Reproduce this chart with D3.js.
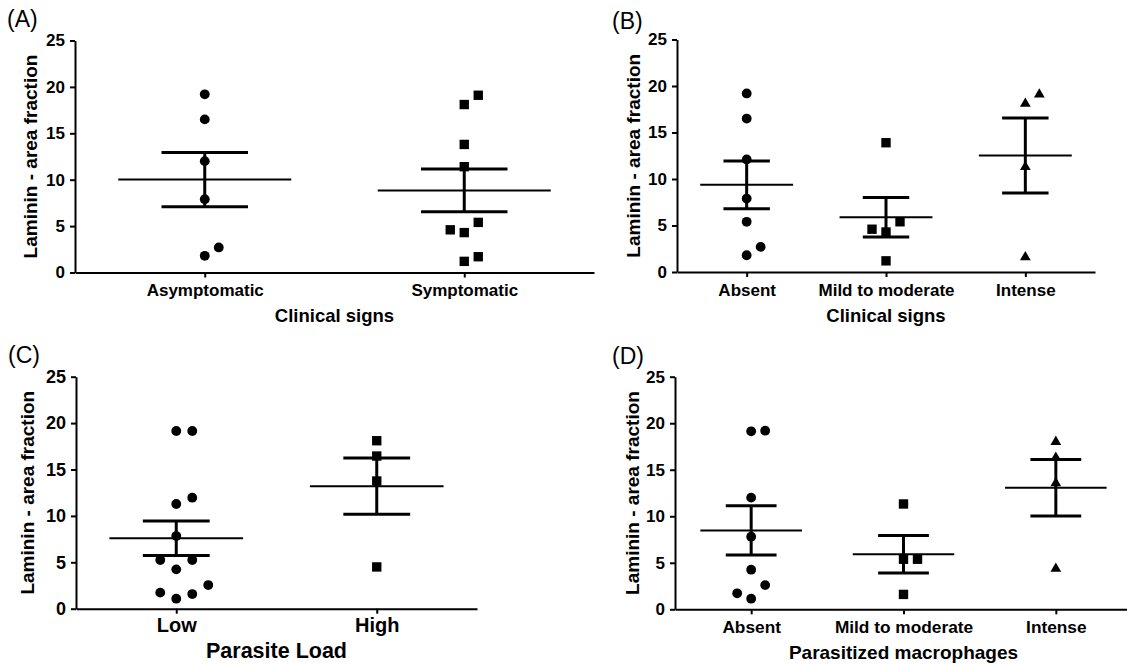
<!DOCTYPE html>
<html>
<head>
<meta charset="utf-8">
<script src="https://cdn.jsdelivr.net/npm/d3@7"></script>
<style>
  body { margin: 0; background: #fff; }
  text { font-family: "Liberation Sans", Arial, sans-serif; fill: #000; }
</style>
</head>
<body>
<svg id="chart" width="1127" height="665"></svg>
<script>
'use strict';
// values, one array per group
const yTicks = [0, 5, 10, 15, 20, 25];
const yTitle = 'Laminin - area fraction';
const shapes = ['circle', 'square', 'triangle'];

const panelALabels = ['Asymptomatic', 'Symptomatic'];
const panelAValues = [
  [19.2, 16.5, 12.0, 7.9, 2.7, 1.8],
  [19.1, 18.1, 13.8, 11.4, 5.4, 4.6, 4.3, 1.7, 1.2]
];
const panelBLabels = ['Absent', 'Mild to moderate', 'Intense'];
const panelBValues = [
  [19.2, 16.5, 12.1, 7.9, 5.4, 2.7, 1.8],
  [13.9, 5.4, 4.6, 4.3, 1.2],
  [19.1, 18.1, 11.3, 1.6]
];
const panelCLabels = ['Low', 'High'];
const panelCValues = [
  [19.15, 19.15, 11.96, 11.28, 7.83, 5.25, 5.25, 4.24, 2.55, 1.73, 1.58, 1.08],
  [18.1, 16.45, 13.76, 4.5]
];
const panelDLabels = ['Absent', 'Mild to moderate', 'Intense'];
const panelDValues = [
  [19.2, 19.13, 12.0, 7.8, 4.26, 2.6, 1.72, 1.14],
  [11.32, 5.38, 5.38, 1.6],
  [18.0, 16.3, 13.55, 4.37]
];

// layout of the four panels
const panels = [
  {tag: '(A)', title: 'Clinical signs', labels: panelALabels, values: panelAValues,
   x0: 75, x1: 594, yb: 272.5, yt: 40.5, tagX: 7, tagY: 27, ytX: 37,
   tickFs: 17, catFs: 17, titleFs: 18.5, jit: 14},
  {tag: '(B)', title: 'Clinical signs', labels: panelBLabels, values: panelBValues,
   x0: 677, x1: 1095, yb: 272, yt: 39.5, tagX: 612, tagY: 28.5, ytX: 640,
   tickFs: 17, catFs: 17, titleFs: 18.5, jit: 14},
  {tag: '(C)', title: 'Parasite Load', labels: panelCLabels, values: panelCValues,
   x0: 76, x1: 477, yb: 608.7, yt: 376.7, tagX: 8, tagY: 363, ytX: 34,
   tickFs: 18, catFs: 20, titleFs: 21.5, jit: 16},
  {tag: '(D)', title: 'Parasitized macrophages', labels: panelDLabels, values: panelDValues,
   x0: 675, x1: 1132, yb: 609.3, yt: 376.7, tagX: 612, tagY: 363.5, ytX: 639,
   tickFs: 17, catFs: 17.3, titleFs: 19, jit: 14}
];

const svg = d3.select('#chart');
svg.append('rect').attr('width', 1127).attr('height', 665).attr('fill', '#fff');

// spread points that sit too close vertically (like the Prism scatter)
function spread(vals, y, minGap) {
  const sorted = vals.map((v, i) => ({v: v, i: i})).sort((a, b) => a.v - b.v);
  const patterns = {1: [0], 2: [0, 1], 3: [0, -1, 1], 4: [0, 1, -1, 2], 5: [0, 1, -1, 2, -2]};
  let out = [];
  let cluster = [];
  function flush() {
    let p = patterns[cluster.length] || cluster.map((d, k) => (k % 2 ? 1 : -1) * Math.ceil(k / 2));
    cluster.forEach((d, k) => out.push({v: d.v, slot: p[k]}));
    cluster = [];
  }
  sorted.forEach(d => {
    if (cluster.length && Math.abs(y(d.v) - y(cluster[cluster.length - 1].v)) > minGap) flush();
    cluster.push(d);
  });
  flush();
  return out;
}

panels.forEach(p => {
  const g = svg.append('g');
  const x = d3.scalePoint().domain(p.labels).range([p.x0, p.x1]).padding(0.5);
  const y = d3.scaleLinear().domain([0, 25]).range([p.yb, p.yt]);
  const step = x.step();

  // points
  p.labels.forEach((lab, gi) => {
    const pts = spread(p.values[gi], y, 12);
    const sym = shapes[gi];
    const cx = x(lab);
    const sel = g.append('g').selectAll('.pt').data(pts).enter();
    if (sym === 'circle') {
      sel.append('circle').attr('class', 'pt')
        .attr('cx', d => cx + d.slot * p.jit).attr('cy', d => y(d.v)).attr('r', 4.9)
        .attr('fill', '#000');
    } else {
      const s = sym === 'square' ? d3.symbol(d3.symbolSquare, 88) : d3.symbol(d3.symbolTriangle, 50);
      sel.append('path').attr('class', 'pt')
        .attr('d', s)
        .attr('transform', d => `translate(${cx + d.slot * p.jit},${y(d.v)})`)
        .attr('fill', '#000');
    }

    // mean and SEM
    const vals = p.values[gi];
    const m = d3.mean(vals);
    const sem = d3.deviation(vals) / Math.sqrt(vals.length);
    g.append('line').attr('x1', cx - step / 3).attr('x2', cx + step / 3)
      .attr('y1', y(m)).attr('y2', y(m)).attr('stroke', '#000').attr('stroke-width', 2);
    g.append('line').attr('x1', cx).attr('x2', cx)
      .attr('y1', y(m + sem)).attr('y2', y(m - sem)).attr('stroke', '#000').attr('stroke-width', 3);
    [m + sem, m - sem].forEach(v => {
      g.append('line').attr('x1', cx - step / 6).attr('x2', cx + step / 6)
        .attr('y1', y(v)).attr('y2', y(v)).attr('stroke', '#000').attr('stroke-width', 3);
    });
  });

  // axes
  const ya = g.append('g').attr('transform', `translate(${p.x0},0)`)
    .call(d3.axisLeft(y).tickValues(yTicks).tickSize(5).tickSizeOuter(0).tickPadding(5));
  ya.selectAll('text').attr('font-size', p.tickFs).attr('font-weight', 'bold')
    .attr('font-family', '"Liberation Sans", Arial, sans-serif');

  const xa = g.append('g').attr('transform', `translate(0,${p.yb})`)
    .call(d3.axisBottom(x).tickSize(5).tickSizeOuter(0));
  xa.selectAll('text').attr('y', 23.5).attr('dy', 0).attr('font-size', p.catFs)
    .attr('font-weight', 'bold').attr('font-family', '"Liberation Sans", Arial, sans-serif');

  g.selectAll('.domain, .tick line').attr('stroke', '#000').attr('stroke-width', 2);

  // titles
  g.append('text').attr('x', (p.x0 + p.x1) / 2).attr('y', p.yb + 49.5)
    .attr('text-anchor', 'middle').attr('font-size', p.titleFs).attr('font-weight', 'bold')
    .text(p.title);
  g.append('text')
    .attr('transform', `translate(${p.ytX},${(p.yb + p.yt) / 2}) rotate(-90)`)
    .attr('text-anchor', 'middle').attr('font-size', 19).attr('font-weight', 'bold')
    .text(yTitle);
  g.append('text').attr('x', p.tagX).attr('y', p.tagY).attr('font-size', 23)
    .text(p.tag);
});
</script>
</body>
</html>
